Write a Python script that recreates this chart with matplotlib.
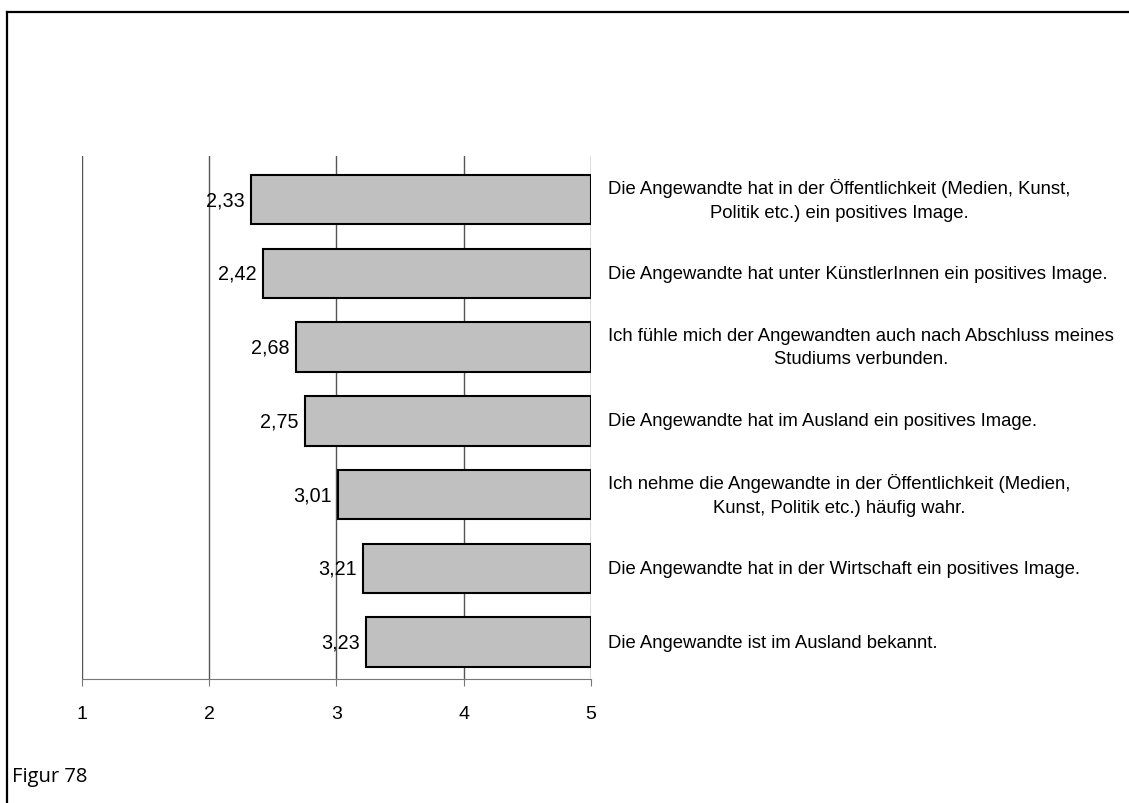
from matplotlib import pyplot as plt
from matplotlib.lines import Line2D

# data (top to bottom)
labels = [
    "Die Angewandte hat in der Öffentlichkeit (Medien, Kunst,\nPolitik etc.) ein positives Image.",
    "Die Angewandte hat unter KünstlerInnen ein positives Image.",
    "Ich fühle mich der Angewandten auch nach Abschluss meines\nStudiums verbunden.",
    "Die Angewandte hat im Ausland ein positives Image.",
    "Ich nehme die Angewandte in der Öffentlichkeit (Medien,\nKunst, Politik etc.) häufig wahr.",
    "Die Angewandte hat in der Wirtschaft ein positives Image.",
    "Die Angewandte ist im Ausland bekannt.",
]
values = [2.33, 2.42, 2.68, 2.75, 3.01, 3.21, 3.23]
value_text = ["2,33", "2,42", "2,68", "2,75", "3,01", "3,21", "3,23"]
xticks = [1, 2, 3, 4, 5]

plt.rcParams['font.family'] = ['Liberation Sans', 'DejaVu Sans']
fs = 13.3

fig = plt.figure(figsize=(11.29, 8.04), dpi=100)
ax = fig.add_axes([0.0726, 0.1542, 0.4509, 0.6505])

n = len(values)
ypos = [n - 1 - i for i in range(n)]

# bars run from the value up to 5
ax.barh(ypos, [5 - v for v in values], left=values, height=0.67,
        color='#c0c0c0', edgecolor='black', linewidth=1.5, zorder=3)

for y, v, t, lab in zip(ypos, values, value_text, labels):
    ax.annotate(t, (v, y), xytext=(-4.5, 0), textcoords='offset points',
                ha='right', va='center', fontsize=14.2, zorder=4)
    ax.annotate(lab, (5, y), xytext=(12, 0), textcoords='offset points',
                ha='left', va='center', multialignment='center',
                fontsize=fs, linespacing=1.5, annotation_clip=False)

ax.set_xlim(1, 5)
ax.set_ylim(-0.5, 6.59)
ax.set_xticks(xticks)
ax.set_xticklabels([str(x) for x in xticks], fontsize=14)
ax.set_yticks([])
ax.grid(axis='x', color='#555555', linewidth=1, zorder=0)
for s in ['top', 'right', 'left']:
    ax.spines[s].set_visible(False)
ax.spines['bottom'].set_color('#777777')
ax.tick_params(axis='x', direction='out', length=5, color='#777777', pad=14)

fig.text(0.0106, 0.033, "Figur 78", fontsize=14.5, family=['Open Sans', 'DejaVu Sans'],
         va='center', ha='left')

# frame lines (top and left only)
W, H = 1129, 804
fig.add_artist(Line2D([7 / W, 1], [1 - 12.5 / H, 1 - 12.5 / H], color='black', linewidth=1.6))
fig.add_artist(Line2D([7 / W, 7 / W], [0, 1 - 12.5 / H], color='black', linewidth=1.6))

plt.savefig('out.png', dpi=100)
